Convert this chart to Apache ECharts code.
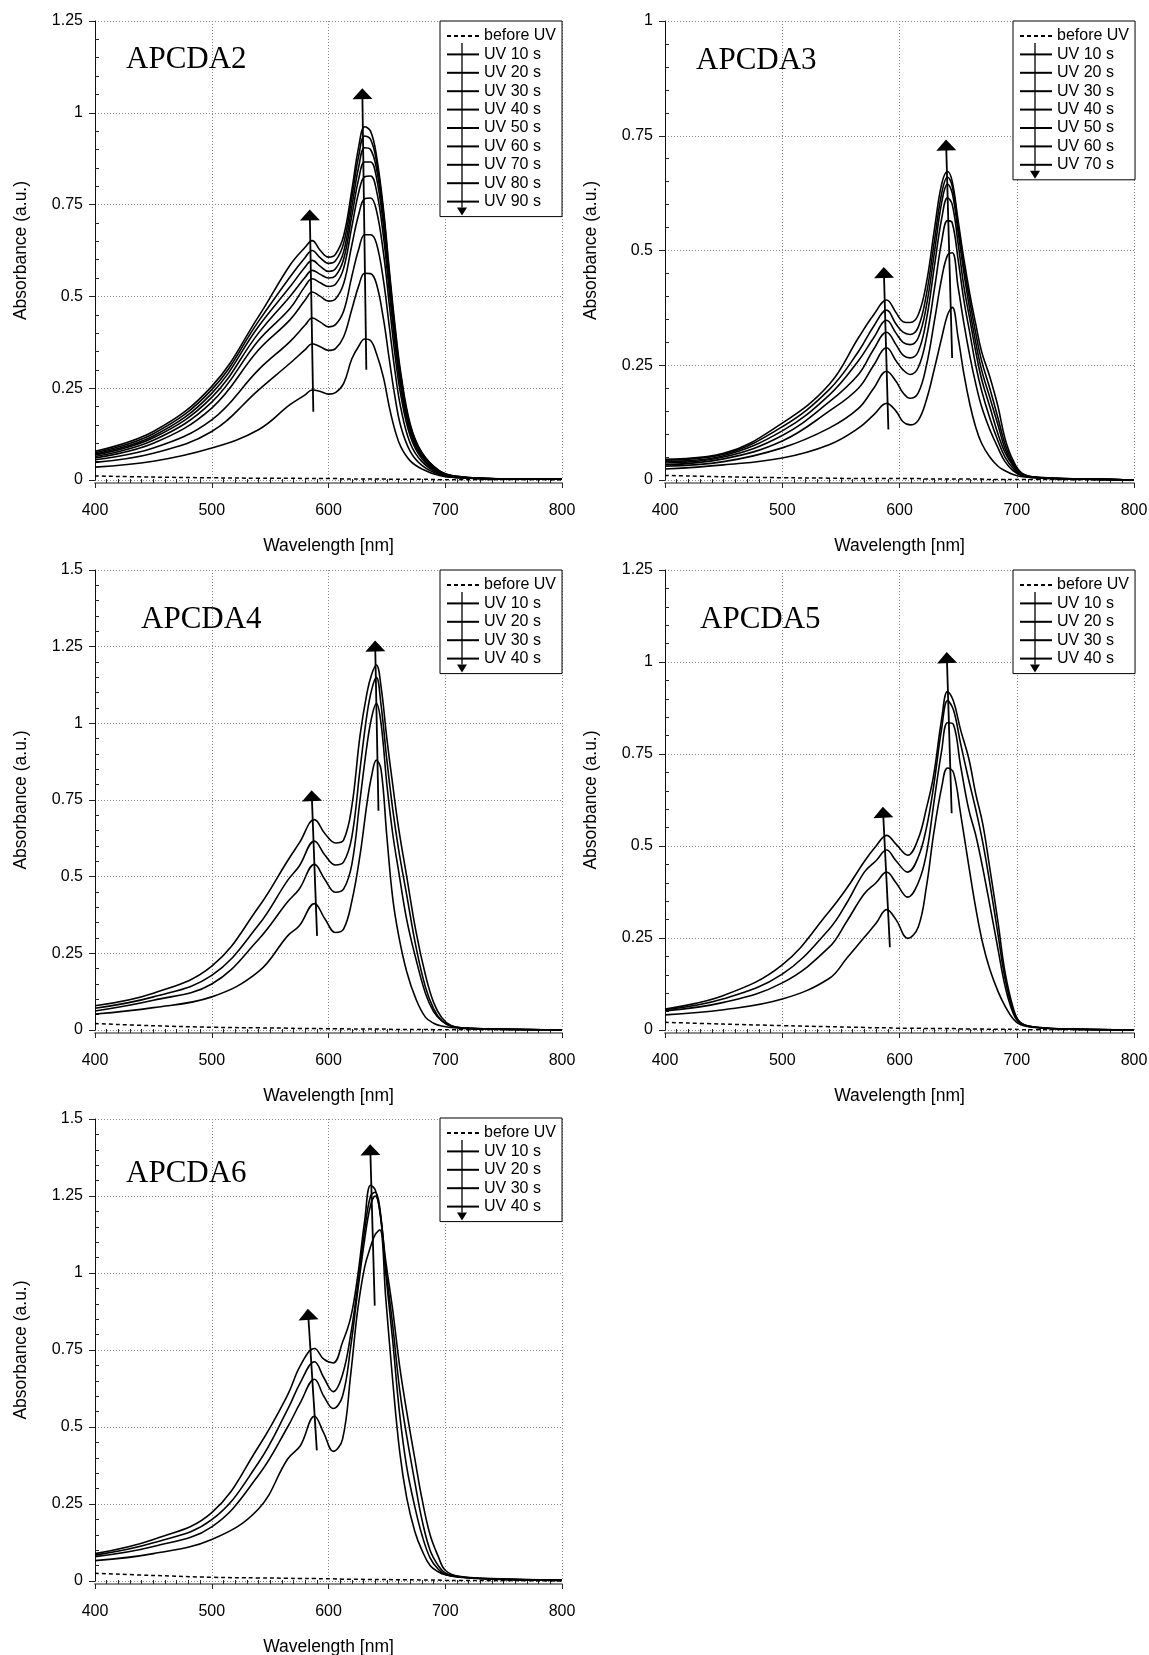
<!DOCTYPE html>
<html><head><meta charset="utf-8">
<script src="https://cdn.jsdelivr.net/npm/echarts@6/dist/echarts.min.js"></script>
<style>html,body{margin:0;padding:0;background:#fff}#c{width:1149px;height:1655px}</style>
</head><body><div id="c"></div>
<script>
// ---------------- DATA ----------------
const SERIES_NAMES = ['before UV','UV 10 s','UV 20 s','UV 30 s','UV 40 s','UV 50 s','UV 60 s','UV 70 s','UV 80 s','UV 90 s'];
const X_TICKS = [400, 500, 600, 700, 800];

// APCDA2
const A2_WL = [400,450,500,540,567,580,586,593,600,606,613,620,626,631,636,641,647,652,657,662,670,680,695,710,750,800];
const A2_BEFORE = [0.011,0.008,0.006,0.005,0.005,0.004,0.004,0.004,0.004,0.004,0.003,0.003,0.003,0.003,0.003,0.003,0.003,0.002,0.002,0.002,0.002,0.002,0.001,0.001,0.001,0.000];
const A2_UV10 = [0.035,0.051,0.087,0.137,0.205,0.232,0.245,0.241,0.234,0.238,0.263,0.330,0.365,0.384,0.380,0.345,0.280,0.200,0.135,0.090,0.052,0.030,0.012,0.006,0.003,0.002];
const A2_UV20 = [0.048,0.073,0.132,0.245,0.318,0.355,0.371,0.363,0.353,0.358,0.390,0.465,0.530,0.563,0.562,0.535,0.440,0.330,0.225,0.145,0.078,0.040,0.015,0.007,0.003,0.002];
const A2_UV30 = [0.055,0.087,0.164,0.300,0.377,0.422,0.441,0.430,0.417,0.423,0.460,0.555,0.630,0.668,0.668,0.645,0.545,0.420,0.295,0.195,0.100,0.050,0.017,0.007,0.003,0.002];
const A2_UV40 = [0.060,0.100,0.196,0.354,0.436,0.490,0.512,0.500,0.487,0.493,0.535,0.640,0.725,0.766,0.768,0.735,0.620,0.480,0.340,0.230,0.120,0.058,0.019,0.008,0.003,0.002];
const A2_UV50 = [0.064,0.108,0.212,0.380,0.467,0.528,0.548,0.537,0.527,0.533,0.577,0.690,0.785,0.826,0.828,0.790,0.665,0.515,0.370,0.250,0.130,0.063,0.021,0.008,0.003,0.002];
const A2_UV60 = [0.068,0.115,0.225,0.400,0.500,0.552,0.571,0.560,0.550,0.556,0.602,0.720,0.822,0.866,0.866,0.825,0.695,0.540,0.390,0.265,0.138,0.068,0.023,0.009,0.003,0.002];
const A2_UV70 = [0.071,0.120,0.236,0.418,0.526,0.580,0.598,0.582,0.568,0.575,0.622,0.745,0.855,0.905,0.900,0.850,0.715,0.555,0.400,0.275,0.144,0.071,0.024,0.009,0.003,0.002];
const A2_UV80 = [0.074,0.126,0.246,0.432,0.553,0.606,0.625,0.605,0.590,0.597,0.645,0.770,0.885,0.937,0.928,0.870,0.730,0.565,0.410,0.282,0.148,0.073,0.025,0.010,0.003,0.002];
const A2_UV90 = [0.078,0.132,0.255,0.445,0.585,0.634,0.652,0.625,0.607,0.615,0.665,0.790,0.910,0.962,0.950,0.885,0.740,0.575,0.420,0.290,0.152,0.075,0.025,0.010,0.003,0.002];
const A2_ARROWS = [[[587,0.186],[584,0.722]],[[632.4,0.30],[629,1.052]]];

// APCDA3
const A3_WL = [400,450,500,540,565,578,589,597,603,609,616,623,630,636,641,645,650,655,660,665,670,677,684,690,697,705,720,760,800];
const A3_BEFORE = [0.010,0.007,0.005,0.004,0.003,0.003,0.003,0.003,0.003,0.003,0.003,0.002,0.002,0.002,0.002,0.002,0.002,0.002,0.002,0.002,0.002,0.001,0.001,0.001,0.001,0.001,0.001,0.000,0.000];
const A3_UV10 = [0.024,0.033,0.048,0.077,0.113,0.142,0.167,0.150,0.127,0.120,0.130,0.175,0.245,0.310,0.360,0.376,0.310,0.230,0.165,0.115,0.080,0.050,0.030,0.020,0.012,0.007,0.004,0.002,0.000];
const A3_UV20 = [0.030,0.040,0.070,0.113,0.156,0.200,0.237,0.215,0.190,0.178,0.190,0.250,0.350,0.440,0.490,0.495,0.420,0.340,0.270,0.210,0.160,0.110,0.070,0.040,0.020,0.009,0.005,0.002,0.000];
const A3_UV30 = [0.033,0.046,0.085,0.150,0.200,0.250,0.288,0.260,0.240,0.230,0.245,0.310,0.420,0.520,0.565,0.560,0.480,0.390,0.320,0.250,0.195,0.135,0.085,0.050,0.025,0.010,0.005,0.002,0.000];
const A3_UV40 = [0.037,0.050,0.097,0.170,0.230,0.285,0.322,0.295,0.272,0.266,0.280,0.350,0.470,0.570,0.615,0.600,0.515,0.420,0.350,0.280,0.220,0.160,0.100,0.060,0.030,0.011,0.005,0.002,0.000];
const A3_UV50 = [0.040,0.053,0.107,0.185,0.260,0.310,0.348,0.320,0.300,0.295,0.310,0.380,0.500,0.605,0.645,0.625,0.540,0.450,0.370,0.300,0.240,0.180,0.120,0.068,0.033,0.012,0.005,0.002,0.000];
const A3_UV60 = [0.043,0.056,0.116,0.197,0.280,0.335,0.370,0.340,0.322,0.317,0.333,0.405,0.525,0.625,0.660,0.640,0.555,0.465,0.390,0.320,0.260,0.200,0.135,0.078,0.037,0.013,0.005,0.002,0.000];
const A3_UV70 = [0.045,0.058,0.124,0.208,0.310,0.360,0.392,0.365,0.345,0.343,0.360,0.430,0.550,0.645,0.672,0.650,0.565,0.480,0.405,0.340,0.280,0.225,0.160,0.090,0.042,0.014,0.006,0.002,0.000];
const A3_ARROWS = [[[590.5,0.11],[586.7,0.452]],[[644.9,0.266],[639.8,0.73]]];

// APCDA4
const A4_WL = [400,450,500,540,565,575,588,597,606,613,620,627,633,637,641,645,650,655,660,667,675,683,690,697,705,715,740,800];
const A4_BEFORE = [0.021,0.014,0.009,0.007,0.006,0.005,0.005,0.004,0.004,0.004,0.003,0.003,0.003,0.003,0.003,0.003,0.003,0.002,0.002,0.002,0.002,0.002,0.001,0.001,0.001,0.001,0.001,0.000];
const A4_UV10 = [0.052,0.073,0.108,0.190,0.307,0.340,0.412,0.362,0.318,0.330,0.420,0.570,0.740,0.830,0.880,0.850,0.630,0.430,0.310,0.190,0.100,0.042,0.022,0.013,0.008,0.005,0.003,0.000];
const A4_UV20 = [0.062,0.097,0.150,0.295,0.418,0.460,0.540,0.490,0.449,0.460,0.540,0.750,0.930,1.020,1.065,1.000,0.800,0.640,0.520,0.360,0.230,0.120,0.060,0.030,0.013,0.007,0.003,0.000];
const A4_UV30 = [0.071,0.108,0.178,0.342,0.488,0.535,0.616,0.570,0.538,0.548,0.630,0.850,1.030,1.110,1.150,1.060,0.880,0.720,0.590,0.440,0.270,0.140,0.070,0.030,0.012,0.007,0.003,0.000];
const A4_UV40 = [0.079,0.120,0.208,0.400,0.552,0.610,0.686,0.640,0.610,0.620,0.730,0.960,1.100,1.160,1.190,1.120,0.950,0.800,0.660,0.500,0.320,0.180,0.090,0.040,0.015,0.007,0.003,0.000];
const A4_ARROWS = [[[590.2,0.307],[585.7,0.764]],[[642.8,0.715],[640,1.252]]];

// APCDA5
const A5_WL = [400,450,500,540,555,570,580,589,597,607,616,623,629,636,641,646,652,659,665,671,677,684,690,697,703,715,740,800];
const A5_BEFORE = [0.021,0.016,0.012,0.009,0.008,0.007,0.006,0.006,0.005,0.005,0.005,0.004,0.004,0.004,0.004,0.004,0.003,0.003,0.003,0.003,0.002,0.002,0.002,0.002,0.001,0.001,0.001,0.000];
const A5_UV10 = [0.041,0.055,0.084,0.140,0.195,0.252,0.290,0.327,0.300,0.249,0.280,0.390,0.530,0.660,0.712,0.700,0.590,0.448,0.332,0.235,0.165,0.105,0.065,0.030,0.015,0.007,0.003,0.000];
const A5_UV20 = [0.052,0.075,0.128,0.225,0.295,0.370,0.400,0.429,0.400,0.361,0.400,0.480,0.610,0.760,0.835,0.830,0.720,0.600,0.530,0.440,0.340,0.220,0.120,0.045,0.018,0.008,0.003,0.000];
const A5_UV30 = [0.055,0.085,0.152,0.274,0.345,0.429,0.460,0.489,0.460,0.429,0.470,0.550,0.660,0.820,0.895,0.870,0.780,0.680,0.600,0.510,0.400,0.260,0.140,0.052,0.020,0.008,0.003,0.000];
const A5_UV40 = [0.057,0.094,0.177,0.322,0.385,0.458,0.500,0.529,0.505,0.475,0.520,0.603,0.690,0.846,0.920,0.894,0.817,0.739,0.642,0.560,0.440,0.293,0.157,0.060,0.021,0.008,0.003,0.000];
const A5_ARROWS = [[[591.8,0.225],[586,0.592]],[[644.5,0.589],[640.4,1.012]]];

// APCDA6
const A6_WL = [400,450,500,540,565,576,588,596,604,612,619,625,631,636,640,644,649,655,661,667,674,680,687,694,700,712,740,800];
const A6_BEFORE = [0.025,0.018,0.012,0.010,0.009,0.008,0.008,0.007,0.007,0.006,0.006,0.006,0.005,0.005,0.005,0.005,0.005,0.004,0.004,0.004,0.004,0.003,0.003,0.003,0.002,0.002,0.001,0.000];
const A6_UV10 = [0.066,0.089,0.135,0.234,0.396,0.440,0.535,0.480,0.421,0.460,0.670,0.880,1.020,1.085,1.125,1.140,0.920,0.650,0.419,0.270,0.160,0.100,0.050,0.030,0.020,0.012,0.006,0.002];
const A6_UV20 = [0.079,0.112,0.176,0.343,0.500,0.580,0.655,0.600,0.560,0.600,0.760,0.940,1.110,1.220,1.250,1.200,1.000,0.780,0.540,0.370,0.240,0.150,0.075,0.038,0.022,0.013,0.007,0.002];
const A6_UV30 = [0.084,0.124,0.199,0.384,0.557,0.645,0.712,0.660,0.615,0.670,0.800,0.960,1.140,1.250,1.262,1.210,1.020,0.830,0.620,0.470,0.320,0.200,0.100,0.050,0.026,0.014,0.007,0.002];
const A6_UV40 = [0.089,0.135,0.222,0.436,0.604,0.700,0.755,0.720,0.708,0.775,0.855,0.990,1.170,1.285,1.270,1.200,1.040,0.880,0.696,0.550,0.396,0.268,0.150,0.080,0.035,0.015,0.008,0.003];
const A6_ARROWS = [[[590,0.424],[582.6,0.866]],[[639.6,0.894],[635.8,1.40]]];

// ---------------- LAYOUT ----------------
const PANELS = [
  {title:'APCDA2', wl:A2_WL, before:A2_BEFORE, uv:[A2_UV10,A2_UV20,A2_UV30,A2_UV40,A2_UV50,A2_UV60,A2_UV70,A2_UV80,A2_UV90], arrows:A2_ARROWS, ymax:1.25,
   box:[95,21,467,459], legend:[440,21], titlePos:[126,60]},
  {title:'APCDA3', wl:A3_WL, before:A3_BEFORE, uv:[A3_UV10,A3_UV20,A3_UV30,A3_UV40,A3_UV50,A3_UV60,A3_UV70], arrows:A3_ARROWS, ymax:1,
   box:[665,21,469,459], legend:[1013,21], titlePos:[696,61]},
  {title:'APCDA4', wl:A4_WL, before:A4_BEFORE, uv:[A4_UV10,A4_UV20,A4_UV30,A4_UV40], arrows:A4_ARROWS, ymax:1.5,
   box:[95,570,467,460], legend:[440,570], titlePos:[141,620]},
  {title:'APCDA5', wl:A5_WL, before:A5_BEFORE, uv:[A5_UV10,A5_UV20,A5_UV30,A5_UV40], arrows:A5_ARROWS, ymax:1.25,
   box:[665,570,469,460], legend:[1013,570], titlePos:[700,620]},
  {title:'APCDA6', wl:A6_WL, before:A6_BEFORE, uv:[A6_UV10,A6_UV20,A6_UV30,A6_UV40], arrows:A6_ARROWS, ymax:1.5,
   box:[95,1119,467,462], legend:[440,1118], titlePos:[126,1174]}
];

const FONT = '"Liberation Sans", Arial, sans-serif';
const GRIDLINE = {show:true, lineStyle:{color:'#8a8a8a', type:[1,2], width:1}};
const TICKCOL = '#222';
const option = {animation:false, backgroundColor:'#fff', grid:[], xAxis:[], yAxis:[], series:[], legend:[], graphic:[]};

const zip = (xs, ys) => xs.map((x, k) => [x, ys[k]]);

PANELS.forEach((p, i) => {
  option.grid.push({left:p.box[0], top:p.box[1], width:p.box[2], height:p.box[3], containLabel:false, outerBoundsMode:'none', show:false});
  const xi = option.xAxis.length, yi = option.yAxis.length;
  option.xAxis.push({
    type:'value', gridIndex:i, position:'bottom', min:X_TICKS[0], max:X_TICKS[X_TICKS.length-1], interval:100, offset:3,
    axisLine:{show:true, onZero:false, lineStyle:{color:'#8c8c8c', width:2}},
    axisTick:{show:true, inside:false, length:5, lineStyle:{color:TICKCOL, width:1}},
    minorTick:{show:false},
    splitLine:GRIDLINE,
    axisLabel:{fontSize:16, color:'#000', fontFamily:FONT, margin:20},
    name:'Wavelength [nm]', nameLocation:'middle', nameGap:54,
    nameTextStyle:{fontSize:17.5, color:'#000', fontFamily:FONT}
  });
  option.xAxis.push({
    type:'value', gridIndex:i, position:'bottom', min:X_TICKS[0], max:X_TICKS[X_TICKS.length-1], interval:100, offset:3,
    axisLine:{show:false, onZero:false}, axisLabel:{show:false}, splitLine:{show:false},
    axisTick:{show:false, inside:true},
    minorTick:{show:true, splitNumber:10, length:4, lineStyle:{color:TICKCOL, width:1}}
  });
  option.yAxis.push({
    type:'value', gridIndex:i, position:'left', min:0, max:p.ymax, interval:0.25,
    axisLine:{show:true, onZero:false, lineStyle:{color:'#111', width:1}},
    axisTick:{show:true, inside:false, length:6, lineStyle:{color:TICKCOL, width:1}},
    minorTick:{show:false},
    splitLine:GRIDLINE,
    axisLabel:{fontSize:16, color:'#000', fontFamily:FONT, margin:12},
    name:'Absorbance (a.u.)', nameLocation:'middle', nameGap:65, nameRotate:90,
    nameTextStyle:{fontSize:17.5, color:'#000', fontFamily:FONT}
  });
  option.yAxis.push({
    type:'value', gridIndex:i, position:'left', min:0, max:p.ymax, interval:0.25,
    axisLine:{show:false, onZero:false}, axisLabel:{show:false}, splitLine:{show:false},
    axisTick:{show:false, inside:true},
    minorTick:{show:true, splitNumber:5, length:4, lineStyle:{color:TICKCOL, width:1}}
  });
  const names = [SERIES_NAMES[0]];
  option.series.push({
    name:SERIES_NAMES[0], type:'line', xAxisIndex:xi, yAxisIndex:yi, data:zip(p.wl, p.before),
    symbol:'none', smooth:0.4, silent:true,
    lineStyle:{color:'#000', width:1.5, type:[4,3]}, itemStyle:{color:'#000'}, z:2,
    markLine:{
      silent:true, animation:false, symbol:['none','triangle'], symbolSize:[0,[20,11]],
      label:{show:false}, emphasis:{disabled:true},
      lineStyle:{color:'#000', width:1.8, type:'solid'},
      data:p.arrows.map(a => [{coord:a[0], symbol:'none'}, {coord:a[1], symbol:'triangle', symbolSize:[20,11]}])
    }
  });
  p.uv.forEach((arr, k) => {
    names.push(SERIES_NAMES[k+1]);
    option.series.push({
      name:SERIES_NAMES[k+1], type:'line', xAxisIndex:xi, yAxisIndex:yi, data:zip(p.wl, arr),
      symbol:'none', smooth:0.4, silent:true,
      lineStyle:{color:'#000', width:1.6, type:'solid'}, itemStyle:{color:'#000'}, z:3
    });
  });
  option.legend.push({
    left:p.legend[0], top:p.legend[1], orient:'vertical', data:names, selectedMode:false,
    itemWidth:32, itemHeight:12, itemGap:2.4, padding:[7,6,7,6],
    borderColor:'#000', borderWidth:1, borderRadius:0, backgroundColor:'#fff',
    textStyle:{fontFamily:FONT, fontSize:16, color:'#000', lineHeight:16},
    itemStyle:{color:'rgba(0,0,0,0)', borderWidth:0, opacity:0}
  });
  const lx = p.legend[0] + 6 + 16;
  const first = p.legend[1] + 15;
  const last = first + 18.4 * (names.length - 1);
  option.graphic.push({type:'line', silent:true, z:100, shape:{x1:lx, y1:first+7, x2:lx, y2:last+6}, style:{stroke:'#000', lineWidth:1.3}});
  option.graphic.push({type:'polygon', silent:true, z:100, shape:{points:[[lx-5,last+6],[lx+5,last+6],[lx,last+14]]}, style:{fill:'#000'}});
  option.graphic.push({type:'text', silent:true, z:100, x:p.titlePos[0], y:p.titlePos[1],
    style:{text:p.title, font:'31px "Liberation Serif", "Times New Roman", serif', fill:'#000', verticalAlign:'middle', align:'left'}});
});

const chart = echarts.init(document.getElementById('c'), null, {renderer:'canvas'});
chart.setOption(option);
</script></body></html>
